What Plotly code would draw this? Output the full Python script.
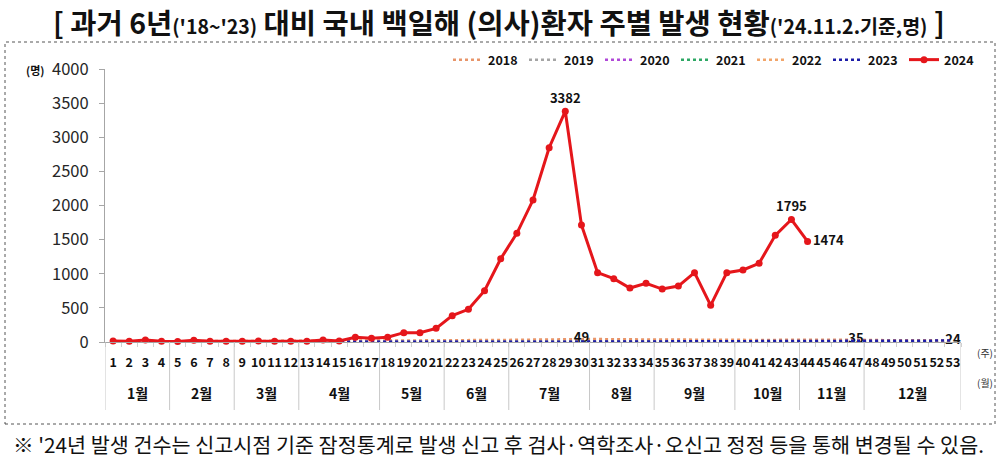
import plotly.graph_objects as go

weeks = list(range(1, 54))
week_labels = [str(w) for w in weeks]

y2018 = [12,10,14,11,13,12,15,14,16,13,15,17,16,18,20,19,22,21,24,23,26,25,28,30,29,33,36,40,45,49,44,40,38,36,33,31,30,28,27,29,30,31,33,32,34,30,35,28,26,25,22,23,24]
y2019 = [10,9,11,8,9,10,8,9,10,11,9,10,12,11,10,12,9,11,10,12,11,13,12,10,11,9,10,12,11,10,9,8,9,10,8,7,9,8,7,8,6,7,8,6,7,5,6,7,5,6,5,4,5]
y2020 = [6,5,7,6,4,5,3,2,2,3,2,1,2,2,1,2,2,1,2,1,2,3,2,1,2,2,1,3,2,2,1,2,3,2,1,2,2,1,2,3,2,1,2,1,2,2,1,2,1,2,1,0,1]
y2021 = [0,1,0,0,1,0,1,0,0,1,0,0,1,0,0,1,0,1,0,0,0,1,0,0,1,0,0,0,1,0,0,1,0,0,0,1,0,0,1,0,0,0,1,0,0,1,0,0,0,1,0,0,1]
y2022 = [1,0,0,1,0,0,1,0,1,0,0,1,0,0,1,0,1,0,0,1,0,1,0,0,1,0,0,1,1,0,0,1,0,1,0,0,1,0,0,1,0,1,1,0,0,1,0,1,0,0,1,0,1]
y2023 = [2,1,2,3,2,1,2,2,3,2,1,2,3,2,2,3,2,4,3,2,3,4,3,5,4,3,4,5,6,5,4,5,6,5,6,7,6,8,7,9,8,10,11,12,14,13,15,16,18,17,20,22,21]
weeks_2024 = list(range(1, 45))
y2024 = [14,12,29,10,9,26,12,10,11,13,11,10,12,28,14,69,55,69,137,137,200,386,479,752,1220,1592,2080,2847,3382,1714,1016,928,791,860,776,820,1016,537,1016,1055,1153,1563,1795,1474]

labeled_2018_weeks = [30, 47, 53]
labeled_2024_weeks = [29, 43, 44]

month_labels = ['1월','2월','3월','4월','5월','6월','7월','8월','9월','10월','11월','12월']
month_start = [1,5,9,13,18,22,26,31,35,40,44,48]
month_end = [4,8,12,17,21,25,30,34,39,43,47,53]

years = ['2018','2019','2020','2021','2022','2023']
series = [y2018, y2019, y2020, y2021, y2022, y2023]
colors = ['#E8956A', '#A5A5A5', '#B048D8', '#2EA865', '#F2A56A', '#1C1CA8']

FONT = 'Noto Sans CJK KR'
L, R, T, B = 105, 961, 69, 342
W, H = 1000, 467

def px(x):
    return (x - L) / (R - L)

def py(y):
    return (B - y) / (B - T)

fig = go.Figure()

for name, ys, col in zip(years, series, colors):
    is18 = name == '2018'
    txt = [str(v) if w in labeled_2018_weeks else '' for w, v in zip(weeks, ys)]
    fig.add_trace(go.Scatter(
        x=weeks, y=ys, name=name, mode='lines+text' if is18 else 'lines',
        line=dict(color=col, width=2.5, dash='dot'),
        text=txt if is18 else None,
        textposition='middle center',
        textfont=dict(family=FONT, size=13, color='#111111', weight='bold'),
        hoverinfo='skip', cliponaxis=False))

txt24 = [str(v) if w in labeled_2024_weeks else '' for w, v in zip(weeks_2024, y2024)]
pos24 = ['middle right' if w == 44 else 'top center' for w in weeks_2024]
fig.add_trace(go.Scatter(
    x=weeks_2024, y=y2024, name='2024', mode='lines+markers+text',
    line=dict(color='#E5161B', width=3),
    marker=dict(color='#E5161B', size=7),
    text=txt24, textposition=pos24,
    textfont=dict(family=FONT, size=13, color='#111111', weight='bold'),
    cliponaxis=False))

shapes = []
bounds = [0.5] + [e + 0.5 for e in month_end]
for bx in bounds:
    shapes.append(dict(type='line', xref='x', yref='paper', x0=bx, x1=bx,
                       y0=0, y1=py(410), line=dict(color='#C8C8C8', width=1)))
shapes.append(dict(type='rect', xref='paper', yref='paper',
                   x0=px(5), x1=px(995), y0=py(424), y1=py(42),
                   line=dict(color='#555555', width=1, dash='dot')))

def ann(x, y, text, size, bold=False, color='#111111', xref='paper'):
    f = dict(family=FONT, size=size, color=color)
    if bold:
        f['weight'] = 'bold'
    return dict(x=x, y=y, xref=xref, yref='paper', text=text, showarrow=False,
                xanchor='center', yanchor='middle', font=f)

annotations = []
for lab, s, e in zip(month_labels, month_start, month_end):
    annotations.append(ann((s + e) / 2, py(393), lab, 14, bold=True, xref='x'))

annotations.append(ann(px(499), py(22),
    "[ 과거 6년<span style='font-size:19.5px'>('18~'23)</span> 대비 국내 백일해 (의사)환자 주별 발생 현황<span style='font-size:19.5px'>('24.11.2.기준,명)</span> ]",
    28.5, bold=True))
annotations.append(ann(px(498), py(444),
    "※ '24년 발생 건수는 신고시점 기준 잠정통계로 발생 신고 후 검사·역학조사·오신고 정정 등을 통해 변경될 수 있음.",
    20.7))
annotations.append(ann(px(35), py(70), '(명)', 11, bold=True))
annotations.append(ann(px(985), py(352), '(주)', 10, color='#333333'))
annotations.append(ann(px(985), py(382), '(월)', 10, color='#333333'))

fig.update_layout(
    width=W, height=H,
    margin=dict(l=L, r=W - R, t=T, b=H - B),
    paper_bgcolor='white', plot_bgcolor='white',
    font=dict(family=FONT, color='#111111'),
    showlegend=True,
    legend=dict(orientation='h', x=px(980), xanchor='right', y=py(60), yanchor='middle',
                font=dict(family=FONT, size=12.5, color='#111111', weight='bold'),
                itemwidth=30, entrywidth=31, entrywidthmode='pixels',
                bgcolor='rgba(0,0,0,0)', tracegroupgap=0),
    xaxis=dict(range=[0.5, 53.5], tickmode='array', tickvals=weeks, ticktext=week_labels,
               tickangle=0,
               tickfont=dict(family=FONT, size=12.5, color='#111111', weight='bold'),
               ticks='outside', ticklen=9, tickcolor='rgba(0,0,0,0)',
               showline=True, linecolor='#A6A6A6', linewidth=1,
               showgrid=False, zeroline=False,
               minor=dict(ticks='outside', tick0=0.5, dtick=1, ticklen=4, tickcolor='#D0D0D0')),
    yaxis=dict(range=[0, 4000], tickmode='array', tickvals=list(range(0, 4001, 500)),
               tickfont=dict(family=FONT, size=16.5, color='#262626'),
               ticks='outside', ticklen=5, tickcolor='#A6A6A6', ticklabelstandoff=7,
               showline=True, linecolor='#A6A6A6', linewidth=1,
               showgrid=False, zeroline=False),
    shapes=shapes, annotations=annotations,
)

fig.write_html('out.html')
